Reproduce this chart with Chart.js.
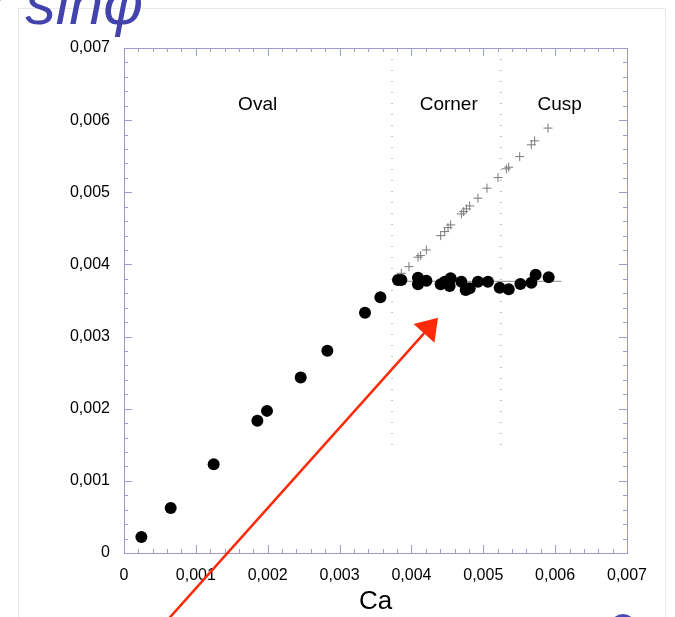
<!DOCTYPE html>
<html>
<head>
<meta charset="utf-8">
<script src="https://cdn.jsdelivr.net/npm/chart.js@4"></script>
<style>
    body { margin: 0; background: #fff; overflow: hidden; }
    .wrap { position: relative; width: 675px; height: 617px; overflow: hidden; }
    .slide-box { position: absolute; left: 18px; top: 8px; width: 646px; height: 640px; border: 1px solid #e8e8e8; }
    .big-title { position: absolute; left: -12px; top: -27px; font: italic 61px/1 "Liberation Sans", sans-serif; color: #4343ad; white-space: nowrap; }
    .logo { position: absolute; left: 610px; top: 614px; width: 26px; height: 26px; border-radius: 50%; background: #4a4ab0; }
    canvas { position: absolute; left: 0; top: 0; }
</style>
</head>
<body>
<div class="wrap">
    <div class="slide-box"></div>
    <div class="big-title">r sinφ</div>
    <div class="logo"></div>
    <canvas id="chart" width="675" height="617"></canvas>
</div>
<script>
    // measured points (Ca, r sin phi)
    const ovalCa = [0.000242, 0.00065, 0.001248, 0.001856, 0.00199, 0.002459, 0.00283, 0.003354, 0.003568];
    const ovalY = [0.000222, 0.000624, 0.001231, 0.001832, 0.00197, 0.002434, 0.002803, 0.00333, 0.003544];

    const flatCa = [0.003813, 0.00386, 0.004091, 0.004091, 0.004208, 0.004407, 0.004463, 0.004546, 0.004532, 0.004695,
        0.004755, 0.004811, 0.004926, 0.005065, 0.005228, 0.005354, 0.005516, 0.005669, 0.005729, 0.00591];
    const flatY = [0.003784, 0.003784, 0.003816, 0.003725, 0.003775, 0.003725, 0.003761, 0.003808, 0.003701, 0.003761,
        0.003646, 0.003669, 0.003761, 0.003761, 0.003678, 0.003655, 0.003729, 0.003747, 0.003858, 0.003822];

    const crossCa = [0.00386, 0.003966, 0.004091, 0.004129, 0.004208, 0.004407, 0.004463, 0.004509, 0.004546, 0.004695, 0.004727,
        0.004765, 0.004811, 0.004926, 0.005051, 0.005205, 0.005321, 0.005354, 0.005507, 0.005669, 0.005715, 0.0059];
    const crossY = [0.003877, 0.003969, 0.0041, 0.004122, 0.004201, 0.004399, 0.004455, 0.00451, 0.004548, 0.0047, 0.004732,
        0.00477, 0.004811, 0.004918, 0.005057, 0.005204, 0.005325, 0.005348, 0.005495, 0.005658, 0.005713, 0.00589];

    // plateau level and region borders
    const plateauCa = [0.00373, 0.006087];
    const plateauY = [0.003766, 0.003766];
    const borderCa = [0.00373, 0.005246];
    const borderY = [0.007, 0.0014];

    const regionNames = ['Oval', 'Corner', 'Cusp'];
    const regionCa = [0.00186, 0.004519, 0.006063];
    const regionY = [0.00622, 0.00622, 0.00622];

    // red arrow: tail, head
    const arrowCa = [0.00056, 0.00437];
    const arrowY = [-0.00098, 0.003261];

    const axisMax = 0.007;
    const majorStep = 0.001;
    const minorPerMajor = 5;

    const font = '"Liberation Sans", Helvetica, Arial, sans-serif';
    const frameColor = '#9d9dcb';

    const toPoints = (xs, ys) => xs.map((x, i) => ({ x: x, y: ys[i] }));
    const fmt = v => Math.abs(v) < 1e-9 ? '0' : v.toFixed(3).replace('.', ',');

    const datasets = [
        {
            label: 'flat',
            data: toPoints(flatCa, flatY),
            pointRadius: 6,
            pointBackgroundColor: '#000',
            pointBorderColor: '#000',
            pointBorderWidth: 0
        },
        {
            label: 'oval',
            data: toPoints(ovalCa, ovalY),
            pointRadius: 6,
            pointBackgroundColor: '#000',
            pointBorderColor: '#000',
            pointBorderWidth: 0
        },
        {
            label: 'cross',
            data: toPoints(crossCa, crossY),
            pointStyle: 'cross',
            pointRadius: 4.5,
            pointBorderColor: '#7a7a7a',
            pointBorderWidth: 1
        },
        {
            label: 'plateau',
            data: toPoints(plateauCa, plateauY),
            showLine: true,
            pointRadius: 0,
            borderColor: '#8a8a8a',
            borderWidth: 1
        }
    ];
    borderCa.forEach(x => {
        datasets.push({
            label: 'border',
            data: toPoints([x, x], borderY),
            showLine: true,
            pointRadius: 0,
            borderColor: '#8a8a8a',
            borderWidth: 1,
            borderDash: [1, 10]
        });
    });

    const frameTicks = {
        id: 'frameTicks',
        beforeDatasetsDraw(chart) {
            const { ctx, chartArea: a, scales: { x, y } } = chart;
            ctx.save();
            ctx.strokeStyle = frameColor;
            ctx.lineWidth = 1;
            ctx.strokeRect(Math.round(a.left) + 0.5, Math.round(a.top) + 0.5, Math.round(a.right - a.left), Math.round(a.bottom - a.top));
            const n = Math.round(axisMax / majorStep) * minorPerMajor;
            ctx.beginPath();
            for (let i = 1; i < n; i++) {
                const v = i * majorStep / minorPerMajor;
                const len = i % minorPerMajor === 0 ? 8 : 4;
                const px = Math.round(x.getPixelForValue(v)) + 0.5;
                const py = Math.round(y.getPixelForValue(v)) + 0.5;
                ctx.moveTo(px, a.bottom); ctx.lineTo(px, a.bottom - len);
                ctx.moveTo(px, a.top); ctx.lineTo(px, a.top + len);
                ctx.moveTo(a.left, py); ctx.lineTo(a.left + len, py);
                ctx.moveTo(a.right, py); ctx.lineTo(a.right - len, py);
            }
            ctx.stroke();
            ctx.restore();
        },
        afterDatasetsDraw(chart) {
            const { ctx, scales: { x, y } } = chart;
            ctx.save();
            ctx.fillStyle = '#000';
            ctx.font = '19px ' + font;
            ctx.textAlign = 'center';
            ctx.textBaseline = 'middle';
            regionNames.forEach((name, i) => {
                ctx.fillText(name, x.getPixelForValue(regionCa[i]), y.getPixelForValue(regionY[i]));
            });

            const x0 = x.getPixelForValue(arrowCa[0]), y0 = y.getPixelForValue(arrowY[0]);
            const x1 = x.getPixelForValue(arrowCa[1]), y1 = y.getPixelForValue(arrowY[1]);
            const ang = Math.atan2(y1 - y0, x1 - x0);
            const headLen = 21, headHalf = 14;
            const bx = x1 - headLen * Math.cos(ang), by = y1 - headLen * Math.sin(ang);
            ctx.strokeStyle = '#ff2a0a';
            ctx.fillStyle = '#ff2a0a';
            ctx.lineWidth = 2.5;
            ctx.beginPath();
            ctx.moveTo(x0, y0);
            ctx.lineTo(bx, by);
            ctx.stroke();
            ctx.beginPath();
            ctx.moveTo(x1, y1);
            ctx.lineTo(bx + headHalf * Math.sin(ang), by - headHalf * Math.cos(ang));
            ctx.lineTo(bx - headHalf * Math.sin(ang), by + headHalf * Math.cos(ang));
            ctx.closePath();
            ctx.fill();
            ctx.restore();
        }
    };

    new Chart(document.getElementById('chart'), {
        type: 'scatter',
        data: { datasets: datasets },
        options: {
            responsive: false,
            animation: false,
            layout: { padding: { top: 48, right: 48, left: 0, bottom: 0 } },
            plugins: {
                legend: { display: false },
                tooltip: { enabled: false }
            },
            scales: {
                x: {
                    type: 'linear',
                    min: 0,
                    max: axisMax,
                    afterFit: s => { s.height = 64; },
                    grid: { display: false, drawTicks: false },
                    border: { display: false },
                    ticks: {
                        stepSize: majorStep,
                        autoSkip: false,
                        maxRotation: 0,
                        padding: 13,
                        color: '#000',
                        font: { family: font, size: 16 },
                        callback: fmt
                    },
                    title: {
                        display: true,
                        text: 'Ca',
                        color: '#000',
                        font: { family: font, size: 26 },
                        padding: { top: 0, bottom: 0 }
                    }
                },
                y: {
                    type: 'linear',
                    min: 0,
                    max: axisMax,
                    afterFit: s => { s.width = 124; },
                    grid: { display: false, drawTicks: false },
                    border: { display: false },
                    ticks: {
                        stepSize: majorStep,
                        autoSkip: false,
                        padding: 14,
                        color: '#000',
                        font: { family: font, size: 16 },
                        callback: fmt
                    }
                }
            }
        },
        plugins: [frameTicks]
    });
</script>
</body>
</html>
